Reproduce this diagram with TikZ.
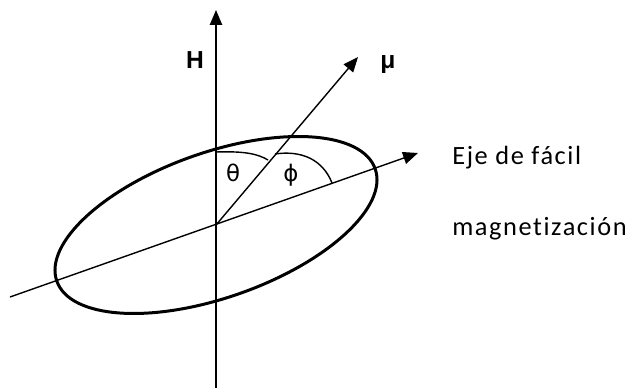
\documentclass[tikz,border=0pt]{standalone}
\usepackage{fontspec}
\setmainfont{Liberation Sans}
\newfontfamily\labfont[LetterSpace=6,Ligatures={NoCommon}]{Carlito}
\newfontfamily\grkfont{DejaVu Sans}
\usetikzlibrary{arrows.meta}
\begin{document}
\begin{tikzpicture}[x=0.02cm,y=-0.02cm,
  axisline/.style={line width=0.8pt},
  arr/.style={axisline,-{Triangle[length=8.5pt,width=7pt]}},
  thickline/.style={line width=1.7pt},
  arcline/.style={line width=0.8pt},
  biglab/.style={font=\fontsize{14}{16}\selectfont\bfseries,inner sep=0pt},
  anglab/.style={font=\fontsize{13}{16}\selectfont\grkfont,inner sep=0pt},
  txtlab/.style={font=\fontsize{15}{18}\selectfont\labfont,inner sep=0pt,anchor=base west}]
\useasboundingbox (0,0) rectangle (628,388);
\coordinate (O) at (216,225);
\coordinate (Htop) at (216,10);
\coordinate (Hbot) at (216,388);
\coordinate (E1) at (10,297);
\coordinate (E2) at (418,153);
\coordinate (M) at (358,57);
% ellipse
\draw[thickline,rotate around={19.44:(O)}] (O) ellipse [x radius=168.8, y radius=72.5];
% axes
\draw[arr] (Hbot) -- (Htop);
\draw[arr] (E1) -- (E2);
\draw[arr] (O) -- (M);
% angle arcs
\draw[arcline] (216,152) .. controls (245,151) and (258,154) .. (268,160);
\draw[arcline] (275,154) .. controls (302,150) and (323,160) .. (332,183);
% labels
\node[biglab] (H) at (195,60) {H};
\node[biglab] (mu) at (388,65) {μ};
\node[anglab] (theta) at (233,173) {θ};
\node[anglab] (phi) at (291,175) {ϕ};
\node[txtlab] (t1) at (452,165) {Eje de fácil};
\node[txtlab] (t2) at (452,235) {magnetización};
\end{tikzpicture}
\end{document}
